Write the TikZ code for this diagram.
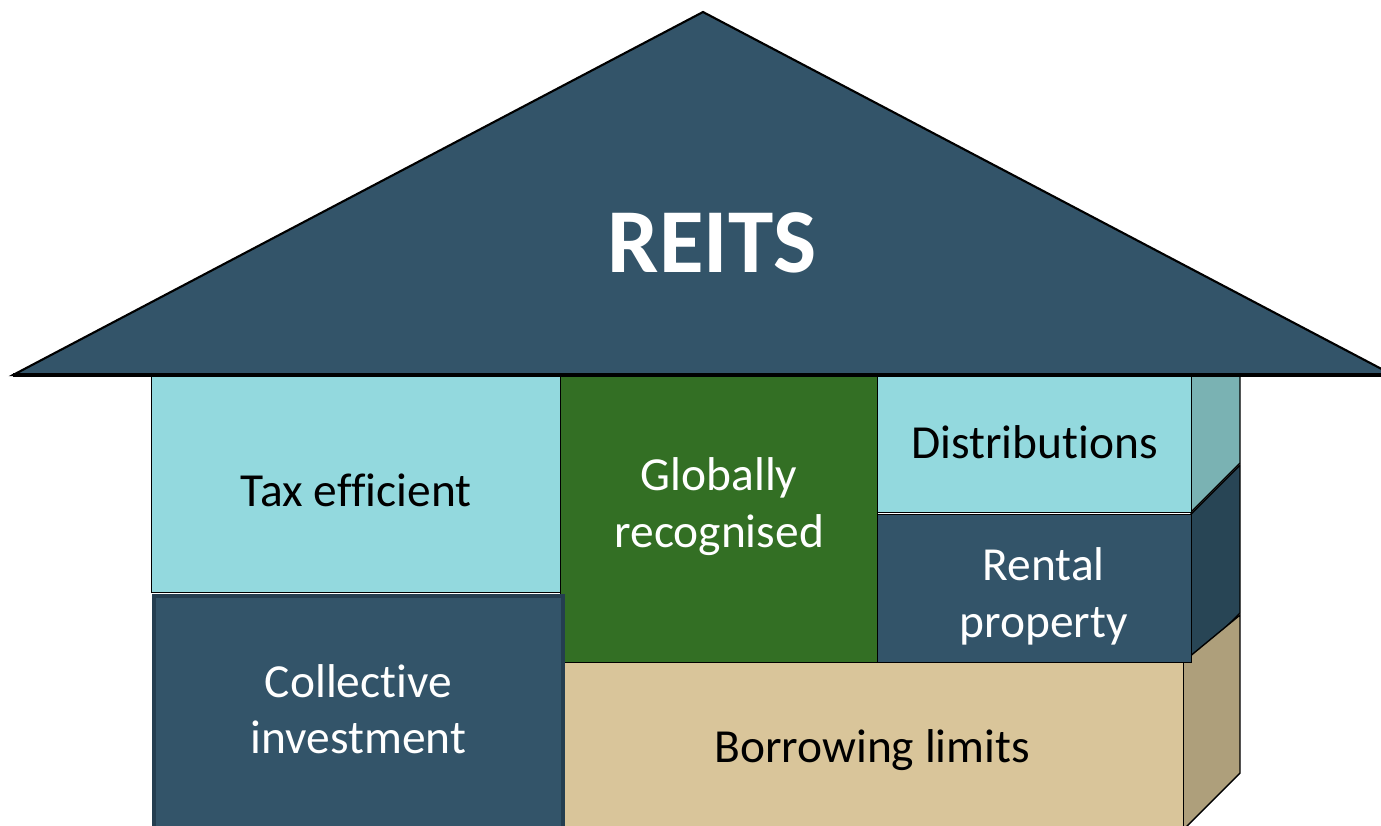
\documentclass[tikz,border=0pt]{standalone}
\usepackage{fontspec}
\setmainfont{Carlito}[Ligatures=NoCommon]
\usepackage{xcolor}
\usetikzlibrary{positioning, calc}
\definecolor{roofblue}{HTML}{335469}
\definecolor{lightcyan}{HTML}{93D9DE}
\definecolor{sidecyan}{HTML}{7AB2B3}
\definecolor{leafgreen}{HTML}{336F24}
\definecolor{sandtan}{HTML}{D9C59A}
\definecolor{sidetan}{HTML}{AE9F7B}
\definecolor{sideblue}{HTML}{284555}
\definecolor{edgeblue}{HTML}{243E50}

\begin{document}
\begin{tikzpicture}[x=0.02cm, y=-0.02cm,
    block/.style={draw=black, line width=0.8pt, rectangle, anchor=north west, inner sep=0pt,
        align=center, font=\fontsize{27}{32.3}\selectfont},
    side/.style={draw=black, line width=0.8pt}]
                            \useasboundingbox (0, 0) rectangle (1381, 825);

                            % side faces
                            \draw[side, fill=sidecyan] (1191, 375) -- (1240, 330) -- (1240, 463) -- (1191, 512) -- cycle;
                            \draw[side, fill=sideblue] (1191, 514) -- (1240, 465) -- (1240, 613) -- (1191, 662) -- cycle;
                            \draw[side, fill=sidetan] (1183, 662) -- (1240, 615) -- (1240, 773) -- (1183, 830) -- cycle;

                            % front boxes
                            \node[block, fill=lightcyan, minimum width=8.18cm, minimum height=4.34cm,
                                text height=0.9cm, text depth=0cm] (tax) at (151, 375) {Tax efficient};
                            \node[block, fill=leafgreen, text=white, minimum width=6.34cm, minimum height=5.74cm,
                                text height=1.14cm, text depth=0cm] (glob) at (560, 375) {Globally\\recognised};
                            \node[block, fill=lightcyan, minimum width=6.28cm, minimum height=2.74cm,
                                text height=0.58cm, text depth=0cm] (dist) at (877, 375) {Distributions};
                            \node[block, fill=roofblue, text=white, minimum width=6.28cm, minimum height=2.96cm,
                                text height=1.96cm, text depth=0cm] (rent) at (877, 514) {\hspace*{0.36cm}Rental\\\hspace*{0.36cm}property};
                            \node[block, fill=sandtan, minimum width=12.46cm, minimum height=3.36cm,
                                text height=0.64cm, text depth=0cm] (borr) at (560, 662) {Borrowing limits};
                            \node[block, fill=roofblue, draw=edgeblue, line width=2.2pt, text=white, minimum width=8.18cm, minimum height=4.8cm,
                                text height=1.52cm, text depth=0cm] (coll) at (152, 594) {Collective\\investment};

                            % roof
                            \draw[fill=roofblue, draw=black, line width=1.2pt, line join=miter] (13, 375) -- (703, 12) -- (1393, 375) -- cycle;
                            \draw[line width=2pt] (13, 375) -- (1381, 375);
                            \node[text=white, anchor=base, font=\fontsize{52}{60}\selectfont\bfseries] (reits) at (712, 272) {REITS};
                        \end{tikzpicture}
\end{document}
